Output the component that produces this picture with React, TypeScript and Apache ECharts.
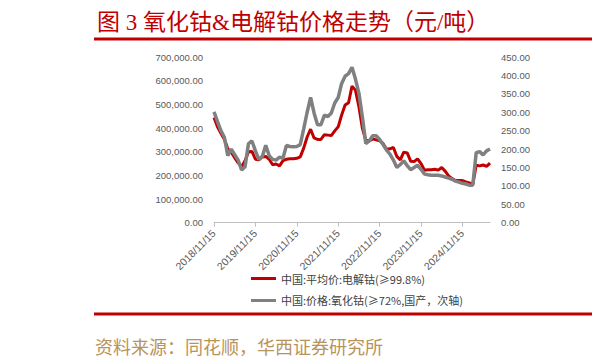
import React, { useEffect, useRef } from "react";
import * as echarts from "echarts";

const START_YEAR = 2018;
const START_MONTH = 11;
const MONTHS = 81;

const categories: string[] = [];
for (let i = 0; i < MONTHS; i++) {
  const t = START_MONTH - 1 + i;
  const y = START_YEAR + Math.floor(t / 12);
  const m = (t % 12) + 1;
  categories.push(`${y}/${m}/15`);
}

const seriesNames = ["中国:平均价:电解钴(≥99.8%)", "中国:价格:氧化钴(≥72%,国产，次轴)"];

const electrolyticCobalt = [
  444000, 405000, 378000, 352000, 312000, 298000, 274000, 253000, 236000, 262000,
  300000, 301000, 268000, 266000, 278000, 280000, 268000, 245000, 248000, 240000,
  262000, 268000, 270000, 270000, 272000, 278000, 315000, 362000, 395000, 358000,
  352000, 352000, 372000, 370000, 368000, 388000, 405000, 455000, 497000, 507000,
  577000, 560000, 490000, 400000, 348000, 345000, 354000, 350000, 346000, 335000,
  310000, 312000, 318000, 280000, 265000, 298000, 295000, 260000, 258000, 270000,
  250000, 222000, 224000, 224000, 226000, 222000, 233000, 218000, 198000, 186000,
  178000, 178000, 178000, 172000, 168000, 160000, 243000, 240000, 244000, 238000,
  252000,
];

const cobaltOxide = [
  301, 275, 250, 232, 182, 200, 185, 170, 143, 152,
  215, 222, 195, 172, 180, 210, 182, 172, 170, 178,
  175, 210, 207, 206, 207, 212, 255, 300, 340, 298,
  266, 266, 292, 288, 298, 325, 340, 378, 398, 405,
  422, 390, 352, 288, 215, 222, 236, 236, 226, 212,
  197, 186, 170, 150, 158, 168, 155, 144, 150, 156,
  145, 132, 130, 129, 129, 129, 127, 124, 121, 118,
  113, 110, 107, 105, 102, 102, 190, 193, 184, 195,
  200,
];

const leftTicks = { min: 0, max: 700000, interval: 100000 };
const rightTicks = { min: 0, max: 450, interval: 50 };

const titleText = "图 3 氧化钴&电解钴价格走势（元/吨）";
const sourceText = "资料来源：同花顺，华西证券研究所";

const RED = "#c00000";
const GRAY = "#808080";
const LABEL = "#595959";
const FONT = "'Liberation Sans', 'Noto Sans CJK SC', sans-serif";
const CJK = "'Noto Sans CJK SC', sans-serif";
const SERIF_CJK = "'Liberation Serif', 'Noto Sans CJK SC', serif";

const fmt = (v: number) =>
  v.toLocaleString("en-US", { minimumFractionDigits: 2, maximumFractionDigits: 2 });

export default function App() {
  const ref = useRef<HTMLDivElement>(null);
  useEffect(() => {
    if (!ref.current) return;
    const chart = echarts.init(ref.current, null, { renderer: "svg" });
    chart.setOption({
      animation: false,
      backgroundColor: "#ffffff",
      grid: { left: 214, right: 107, top: 57, bottom: 140.3, containLabel: false },
      legend: {
        orient: "vertical",
        left: 246,
        top: 268,
        itemWidth: 25,
        itemHeight: 3,
        itemGap: 11,
        textStyle: { fontFamily: CJK, fontSize: 11, color: "#404040" },
        data: [
          { name: seriesNames[0], icon: "rect", itemStyle: { color: RED } },
          { name: seriesNames[1], icon: "rect", itemStyle: { color: GRAY } },
        ],
      },
      xAxis: {
        type: "category",
        data: categories,
        boundaryGap: false,
        axisLine: { lineStyle: { color: "#bfbfbf", width: 1 } },
        axisTick: { show: true, interval: 11, length: 4, lineStyle: { color: "#bfbfbf" } },
        axisLabel: {
          interval: 11,
          rotate: 45,
          margin: 9,
          fontFamily: FONT,
          fontSize: 10.5,
          color: LABEL,
        },
        splitLine: { show: false },
      },
      yAxis: [
        {
          type: "value",
          min: leftTicks.min,
          max: leftTicks.max,
          interval: leftTicks.interval,
          axisLine: { show: false },
          axisTick: { show: false },
          splitLine: { show: false },
          axisLabel: { formatter: fmt, fontFamily: FONT, fontSize: 9.5, color: LABEL, margin: 11 },
        },
        {
          type: "value",
          position: "right",
          min: rightTicks.min,
          max: rightTicks.max,
          interval: rightTicks.interval,
          axisLine: { show: false },
          axisTick: { show: false },
          splitLine: { show: false },
          axisLabel: { formatter: fmt, fontFamily: FONT, fontSize: 9.5, color: LABEL, margin: 11 },
        },
      ],
      series: [
        {
          name: seriesNames[0],
          type: "line",
          yAxisIndex: 0,
          data: electrolyticCobalt,
          showSymbol: false,
          symbol: "none",
          lineStyle: { color: RED, width: 3 },
          itemStyle: { color: RED },
        },
        {
          name: seriesNames[1],
          type: "line",
          yAxisIndex: 1,
          data: cobaltOxide,
          showSymbol: false,
          symbol: "none",
          lineStyle: { color: GRAY, width: 3.5 },
          itemStyle: { color: GRAY },
        },
      ],
      graphic: [
        {
          type: "text",
          left: 97,
          top: 11,
          style: { text: titleText, fill: RED, fontFamily: SERIF_CJK, fontSize: 23 },
        },
        {
          type: "rect",
          shape: { x: 94, y: 37.5, width: 498, height: 3 },
          style: { fill: RED },
        },
        {
          type: "rect",
          shape: { x: 94, y: 312.5, width: 498, height: 3 },
          style: { fill: RED },
        },
        {
          type: "text",
          left: 95,
          top: 337,
          style: { text: sourceText, fill: "#b8935a", fontFamily: CJK, fontSize: 18 },
        },
      ],
    });
    return () => chart.dispose();
  }, []);
  return (
    <div
      ref={ref}
      style={{ position: "fixed", left: 0, top: 0, width: 597, height: 363 }}
    />
  );
}
